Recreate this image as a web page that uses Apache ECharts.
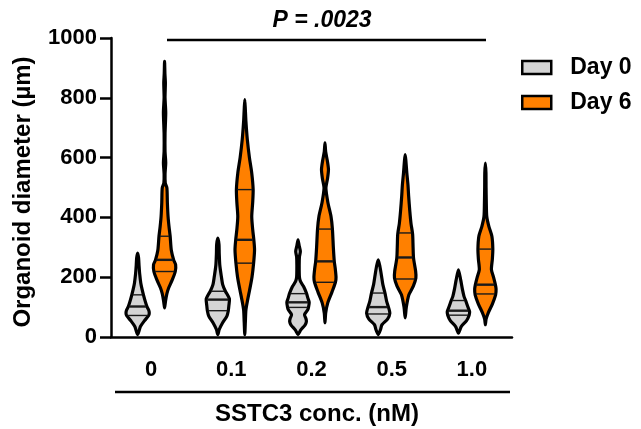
<!DOCTYPE html>
<html><head><meta charset="utf-8">
<script src="https://cdn.jsdelivr.net/npm/echarts@6/dist/echarts.min.js"></script>
<style>html,body{margin:0;padding:0;background:#fff}#c{width:641px;height:429px}</style>
</head><body><div id="c"></div>
<script>
// ---- data ----
const categories = ['0', '0.1', '0.2', '0.5', '1.0'];
const seriesNames = ['Day 0', 'Day 6'];
const yTicks = [0, 200, 400, 600, 800, 1000];
// violin density profiles: [diameter (µm), relative density]
const day0Profiles = [
  [[8,0],[20,0.12],[35,0.24],[55,0.6],[72,0.95],[80,1.0],[90,0.95],[102,0.8],[120,0.65],[141,0.5],[160,0.38],[181,0.27],[210,0.18],[240,0.12],[265,0.08],[281,0]],
  [[8,0],[25,0.12],[47,0.4],[70,0.78],[88,0.9],[105,0.95],[127,1.0],[140,0.85],[153,0.65],[175,0.42],[203,0.3],[240,0.17],[280,0.12],[310,0.1],[331,0]],
  [[8,0],[24,0.24],[40,0.6],[52,0.72],[62,0.68],[75,0.56],[90,0.82],[99,0.9],[116,0.96],[130,0.85],[147,0.72],[169,0.48],[185,0.22],[200,0.12],[240,0.1],[268,0.12],[286,0.2],[305,0.1],[325,0]],
  [[8,0],[25,0.2],[41,0.32],[60,0.8],[80,1.0],[100,0.88],[120,0.72],[147,0.58],[175,0.4],[205,0.28],[235,0.15],[258,0]],
  [[13,0],[35,0.24],[55,0.7],[73,0.92],[85,0.96],[102,0.8],[122,0.62],[136,0.48],[160,0.34],[190,0.2],[225,0]]
];
const day6Profiles = [
  [[97,0],[120,0.08],[145,0.2],[164,0.35],[190,0.65],[219,0.92],[242,0.95],[258,0.78],[290,0.58],[337,0.48],[370,0.38],[403,0.3],[450,0.24],[499,0.2],[515,0.06],[545,0.04],[583,0.1],[620,0.04],[680,0.04],[750,0.1],[800,0.04],[850,0.07],[880,0.03],[922,0]],
  [[8,0],[50,0.05],[91,0.1],[125,0.25],[158,0.42],[200,0.62],[247,0.76],[292,0.84],[325,0.78],[360,0.68],[403,0.6],[450,0.68],[493,0.72],[548,0.6],[600,0.4],[660,0.22],[720,0.1],[760,0.05],[794,0]],
  [[47,0],[80,0.06],[114,0.24],[150,0.6],[183,0.9],[200,0.95],[230,0.88],[253,0.8],[300,0.72],[361,0.64],[403,0.52],[450,0.25],[498,0.08],[530,0.22],[560,0.3],[590,0.2],[620,0.06],[649,0]],
  [[64,0],[100,0.1],[141,0.32],[170,0.7],[197,0.92],[220,0.9],[264,0.72],[300,0.68],[344,0.64],[380,0.5],[420,0.4],[470,0.3],[509,0.24],[550,0.14],[590,0.06],[610,0]],
  [[41,0],[60,0.06],[80,0.24],[110,0.6],[141,0.88],[160,0.92],[175,0.86],[200,0.7],[225,0.52],[260,0.6],[294,0.64],[337,0.56],[370,0.3],[403,0.12],[450,0.08],[500,0.06],[550,0.05],[582,0]]
];
const day0Q1 = [72, 88, 99, 77, 73];
const day0Median = [102, 125, 116, 100, 88];
const day0Q3 = [141, 153, 145, 147, 122];
const day6Q1 = [219, 247, 183, 194, 144];
const day6Median = [258, 325, 253, 266, 175];
const day6Q3 = [337, 493, 361, 348, 294];
const pLabel = 'P = .0023';

// ---- rendering ----
const colors = ['#d4d4d4', '#ff8000'];
const offsets = [-0.168, 0.168];
const widthScale = 0.145;
const outline = 3.2;

function densityAt(profile, v) {
  for (let i = 0; i < profile.length - 1; i++) {
    const a = profile[i], b = profile[i + 1];
    if (v >= a[0] && v <= b[0]) {
      const t = (v - a[0]) / (b[0] - a[0]);
      return a[1] + t * (b[1] - a[1]);
    }
  }
  return 0;
}

function makeRender(profiles, q1, med, q3, sIdx) {
  return function (params, api) {
    const ci = api.value(0);
    const band = api.size([1, 0])[0];
    const cx = api.coord([ci, 0])[0] + offsets[sIdx] * band;
    const hwMax = widthScale * band;
    const prof = profiles[ci];
    const right = [], left = [];
    prof.forEach(p => {
      const y = api.coord([ci, p[0]])[1];
      right.push([cx + p[1] * hwMax, y]);
    });
    for (let i = prof.length - 1; i >= 0; i--) {
      const p = prof[i];
      if (p[1] === 0) continue;
      const y = api.coord([ci, p[0]])[1];
      left.push([cx - p[1] * hwMax, y]);
    }
    const pts = right.concat(left);
    const children = [{
      type: 'polygon',
      shape: { points: pts, smooth: 0.25 },
      style: { fill: colors[sIdx], stroke: '#000', lineWidth: outline, lineJoin: 'round' }
    }];
    [[q1[ci], 1.4], [med[ci], 2.4], [q3[ci], 1.4]].forEach(([v, lw]) => {
      const y = api.coord([ci, v])[1];
      const w = densityAt(prof, v) * hwMax - 1;
      children.push({
        type: 'line',
        shape: { x1: cx - w, y1: y, x2: cx + w, y2: y },
        style: { stroke: '#1a1a1a', lineWidth: lw }
      });
    });
    return { type: 'group', children };
  };
}

const font = 'Liberation Sans, Arial, sans-serif';
const chart = echarts.init(document.getElementById('c'), null, { renderer: 'canvas' });
chart.setOption({
  animation: false,
  backgroundColor: '#fff',
  grid: { left: 111, right: 129, top: 38, bottom: 92, containLabel: false, outerBoundsMode: 'none' },
  legend: {
    left: 516, top: 51, orient: 'vertical', itemWidth: 29, itemHeight: 13, itemGap: 12,
    icon: 'rect',
    textStyle: { fontSize: 23, fontWeight: 'bold', color: '#000', fontFamily: font, padding: [0, 0, 0, 14] },
    data: [
      { name: seriesNames[0], itemStyle: { color: colors[0], borderColor: '#000', borderWidth: 2.5 } },
      { name: seriesNames[1], itemStyle: { color: colors[1], borderColor: '#000', borderWidth: 2.5 } }
    ]
  },
  xAxis: {
    type: 'category', data: categories,
    axisLine: { lineStyle: { color: '#000', width: 2.5 } },
    axisTick: { alignWithLabel: true, length: 12, lineStyle: { color: '#000', width: 2.5 } },
    axisLabel: { fontSize: 22, fontWeight: 'bold', color: '#000', fontFamily: font, margin: 22 },
    splitLine: { show: false }
  },
  yAxis: {
    type: 'value', min: yTicks[0], max: yTicks[yTicks.length - 1], interval: yTicks[1] - yTicks[0],
    axisLine: { show: true, lineStyle: { color: '#000', width: 2.5 } },
    axisTick: { show: true, length: 11, lineStyle: { color: '#000', width: 2.5 } },
    axisLabel: { fontSize: 22, fontWeight: 'bold', color: '#000', fontFamily: font, margin: 14, formatter: v => String(v) },
    splitLine: { show: false }
  },
  graphic: [
    { type: 'text', x: 23, y: 192, rotation: Math.PI / 2,
      style: { text: 'Organoid diameter (µm)', fontSize: 24, fontWeight: 'bold', fill: '#000', fontFamily: font, align: 'center', verticalAlign: 'middle' } },
    { type: 'line', shape: { x1: 115, y1: 392, x2: 510, y2: 392 }, style: { stroke: '#000', lineWidth: 2.5 } },
    { type: 'text', x: 317, y: 414,
      style: { text: 'SSTC3 conc. (nM)', fontSize: 24, fontWeight: 'bold', fill: '#000', fontFamily: font, align: 'center', verticalAlign: 'middle' } },
    { type: 'line', shape: { x1: 167, y1: 40, x2: 486, y2: 40 }, style: { stroke: '#000', lineWidth: 2.5 } },
    { type: 'text', x: 322, y: 21,
      style: { text: pLabel, fontSize: 23, fontWeight: 'bold', fontStyle: 'italic', fill: '#000', fontFamily: font, align: 'center', verticalAlign: 'middle' } }
  ],
  series: [
    { type: 'custom', name: seriesNames[0], itemStyle: { color: colors[0], borderColor: '#000', borderWidth: 2 },
      data: categories.map((c, i) => [i]), encode: { x: 0 },
      renderItem: makeRender(day0Profiles, day0Q1, day0Median, day0Q3, 0) },
    { type: 'custom', name: seriesNames[1], itemStyle: { color: colors[1], borderColor: '#000', borderWidth: 2 },
      data: categories.map((c, i) => [i]), encode: { x: 0 },
      renderItem: makeRender(day6Profiles, day6Q1, day6Median, day6Q3, 1) }
  ]
});
</script></body></html>
